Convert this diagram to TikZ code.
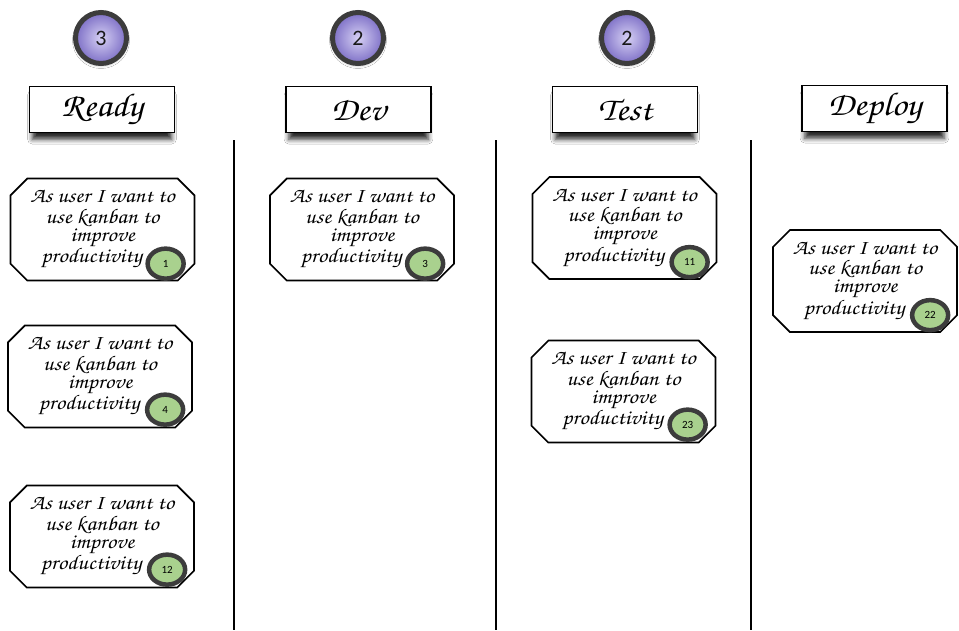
\documentclass[tikz,border=0pt]{standalone}
\usepackage[T1]{fontenc}
\usepackage{fontspec}
\setsansfont{Carlito}
\usepackage{graphicx}
\usetikzlibrary{shapes.misc,shapes.geometric,shadows.blur}

% calligraphic face for titles and story cards
\newcommand\chan{\usefont{T1}{pzc}{mb}{it}}
\newcommand\storytext{%
  {\chan\fontsize{19}{16.2}\selectfont
   \raisebox{1.5pt}{\scalebox{1.22}[1.1]{\begin{tabular}{@{}c@{}}
     As user I want to\\ use kanban to\\ improve\\ \hspace*{-18pt}productivity
   \end{tabular}}}}}
\newcommand\lanetitle[1]{\scalebox{1.12}[1]{#1}}

\definecolor{badgegreen}{HTML}{A9D18E}
\definecolor{ringgray}{HTML}{3C3C3C}
\definecolor{wiplight}{HTML}{D6D0F4}
\definecolor{wipdark}{HTML}{7D6FC6}

\tikzset{
  wip/.style={circle, minimum size=51pt, line width=5pt, draw=ringgray,
    inner color=wiplight, outer color=wipdark, inner sep=0pt,
    font=\sffamily\fontsize{22}{22}\selectfont, text=black!90,
    blur shadow={shadow xshift=0pt, shadow yshift=-2pt,
      shadow blur radius=3pt, shadow opacity=30}},
  header/.style={draw, line width=1.6pt, fill=white,
    minimum width=145pt, minimum height=46pt, inner sep=0pt,
    font=\chan\fontsize{33}{33}\selectfont,
    blur shadow={shadow xshift=0pt, shadow yshift=-8pt, shadow scale=0.96,
      shadow blur radius=5pt, shadow opacity=85}},
  card/.style={chamfered rectangle, chamfered rectangle xsep=14pt,
    draw, line width=1.6pt, fill=white, inner sep=0pt,
    minimum width=184pt, minimum height=102pt},
  badge/.style={ellipse, draw=ringgray, line width=4.5pt, fill=badgegreen,
    minimum width=36pt, minimum height=30pt, inner sep=0pt,
    font=\sffamily\fontsize{11}{11}\selectfont},
  lane/.style={line width=1.5pt}
}

\begin{document}
\begin{tikzpicture}[x=1pt, y=-1pt]
  \useasboundingbox[fill=white] (0,0) rectangle (959,630);

  % WIP limits
  \node[wip] (w1) at (101,38) {3};
  \node[wip] (w2) at (358,38) {2};
  \node[wip] (w3) at (627,38) {2};

  % column titles
  \node[header] (h1) at (102,109.5) {\lanetitle{Ready}};
  \node[header] (h2) at (358.5,109.5) {\lanetitle{Dev}};
  \node[header] (h3) at (625,109.5) {\lanetitle{Test}};
  \node[header] (h4) at (874.5,108.5) {\lanetitle{Deploy}};

  % lane separators
  \draw[lane] (234,140) -- (234,630);
  \draw[lane] (496,140) -- (496,630);
  \draw[lane] (751,140) -- (751,630);

  % story cards
  \node[card] (k1) at (102.5,229.5) {\storytext};
  \node[card] (k2) at (100,376.5) {\storytext};
  \node[card] (k3) at (102,536.5) {\storytext};
  \node[card] (k4) at (362,229.5) {\storytext};
  \node[card] (k5) at (624.5,228) {\storytext};
  \node[card] (k6) at (623.5,391.5) {\storytext};
  \node[card] (k7) at (865,281) {\storytext};

  % card numbers
  \node[badge] (b1) at ([shift={(-21,-9)}]k1.south east) {1};
  \node[badge] (b2) at ([shift={(-19,-10)}]k2.south east) {4};
  \node[badge] (b3) at ([shift={(-19,-10)}]k3.south east) {12};
  \node[badge] (b4) at ([shift={(-21,-9)}]k4.south east) {3};
  \node[badge] (b5) at ([shift={(-19,-9)}]k5.south east) {11};
  \node[badge] (b6) at ([shift={(-20,-10)}]k6.south east) {23};
  \node[badge] (b7) at ([shift={(-19,-9)}]k7.south east) {22};
\end{tikzpicture}
\end{document}
